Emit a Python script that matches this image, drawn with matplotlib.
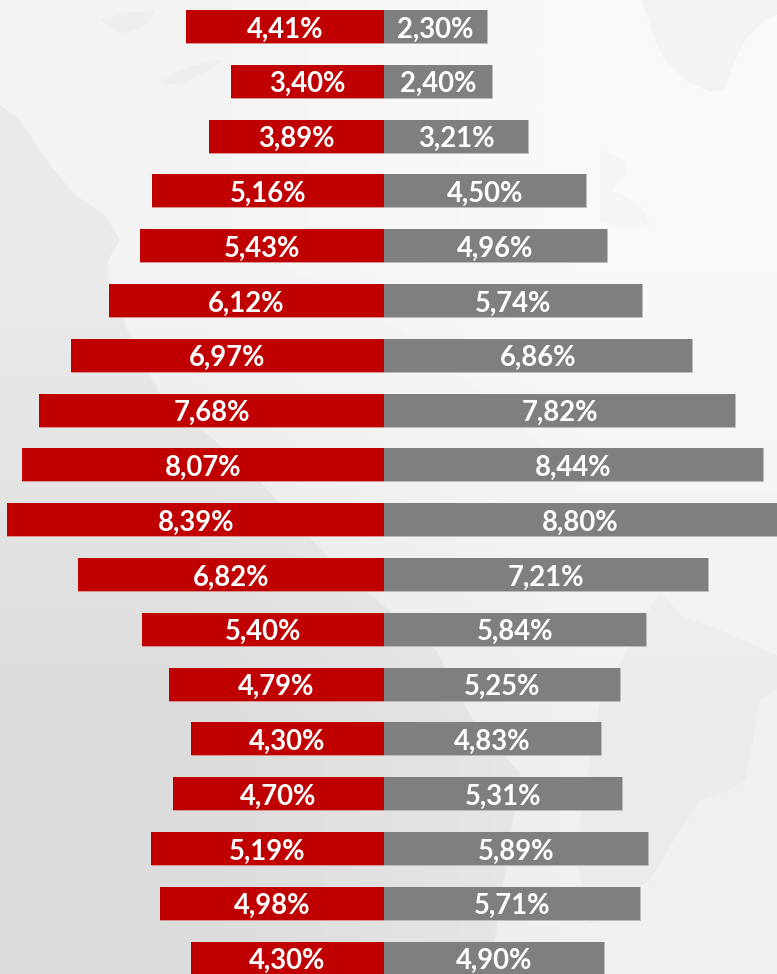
"""Mirrored percentage bars over a pale world-map backdrop."""

import matplotlib

matplotlib.use("Agg")
import matplotlib.pyplot as plt
import numpy as np

red_values = [4.41, 3.40, 3.89, 5.16, 5.43, 6.12, 6.97, 7.68, 8.07, 8.39,
              6.82, 5.40, 4.79, 4.30, 4.70, 5.19, 4.98, 4.30]
gray_values = [2.30, 2.40, 3.21, 4.50, 4.96, 5.74, 6.86, 7.82, 8.44, 8.80,
               7.21, 5.84, 5.25, 4.83, 5.31, 5.89, 5.71, 4.90]

WIDTH, HEIGHT = 777, 974
PX_PER_UNIT = 44.9
ROW_STEP = 54.8
FIRST_ROW = 26.5
ZERO_X = 384

plt.rcParams["font.family"] = ["Lato", "DejaVu Sans"]


def percent(value):
    return f"{value:.2f}".replace(".", ",") + "%"


fig = plt.figure(figsize=(WIDTH / 100, HEIGHT / 100), dpi=100)

# backdrop: soft diagonal gradient plus rough map silhouettes
bg = fig.add_axes([0, 0, 1, 1], zorder=0)
corners = np.array([[0.955, 0.975], [0.895, 0.94]])
bg.imshow(corners, cmap="gray", vmin=0, vmax=1, interpolation="bilinear",
          aspect="auto", extent=(0, WIDTH, HEIGHT, 0))
pacific = [(0, 105), (20, 120), (50, 165), (75, 195), (105, 215), (120, 240),
           (108, 260), (108, 290), (125, 325), (160, 395), (250, 470), (330, 560),
           (436, 650), (471, 717), (520, 773), (505, 873), (490, 974), (0, 974)]
greenland = [(642, 0), (777, 0), (777, 15), (765, 20), (745, 40), (735, 60),
             (725, 90), (710, 92), (685, 80), (665, 60), (655, 40)]
newfoundland = [(600, 150), (625, 160), (628, 172), (612, 190), (640, 205),
                (650, 225), (625, 228), (600, 222)]
brazil = [(660, 590), (680, 615), (720, 630), (777, 655), (777, 690), (760, 700),
          (755, 730), (745, 780), (730, 790), (700, 800), (680, 830), (650, 880),
          (620, 900), (590, 925), (575, 850), (600, 700)]
baffin = [(100, 20), (125, 13), (156, 10), (150, 22), (125, 35), (112, 30)]
islands = [(158, 80), (175, 72), (195, 65), (223, 60), (205, 72), (185, 83), (165, 84)]
for shape, alpha in [(pacific, 0.035), (greenland, 0.025), (newfoundland, 0.015),
                     (brazil, 0.018), (baffin, 0.02), (islands, 0.02)]:
    bg.fill(*zip(*shape), color="black", alpha=alpha, linewidth=0)
bg.set_xlim(0, WIDTH)
bg.set_ylim(HEIGHT, 0)
bg.axis("off")

ax = fig.add_axes([0, 0, 1, 1], zorder=1)
ax.patch.set_alpha(0)
rows = np.arange(len(red_values))
red_signed = -np.array(red_values)

# pale rims first, so that the solid bars hide them along the centre line
ax.barh(rows, red_signed, height=0.6, color="#C00000", edgecolor="#dc9a9a", linewidth=0.6)
ax.barh(rows, gray_values, height=0.6, color="#7F7F7F", edgecolor="#bdbdbd", linewidth=0.6)
red_bars = ax.barh(rows, red_signed, height=0.6, color="#C00000", linewidth=0)
gray_bars = ax.barh(rows, gray_values, height=0.6, color="#7F7F7F", linewidth=0)

for bars, values in [(red_bars, red_values), (gray_bars, gray_values)]:
    labels = ax.bar_label(bars, labels=[percent(v) for v in values], label_type="center",
                          color="white", fontsize=19.8, fontweight="bold")
    for label in labels:
        label.xyann = (0, -2.2)

ax.set_xlim(-ZERO_X / PX_PER_UNIT, (WIDTH - ZERO_X) / PX_PER_UNIT)
ax.set_ylim((HEIGHT - FIRST_ROW) / ROW_STEP, -FIRST_ROW / ROW_STEP)
ax.axis("off")

fig.savefig("out.png", dpi=100)
plt.close(fig)
